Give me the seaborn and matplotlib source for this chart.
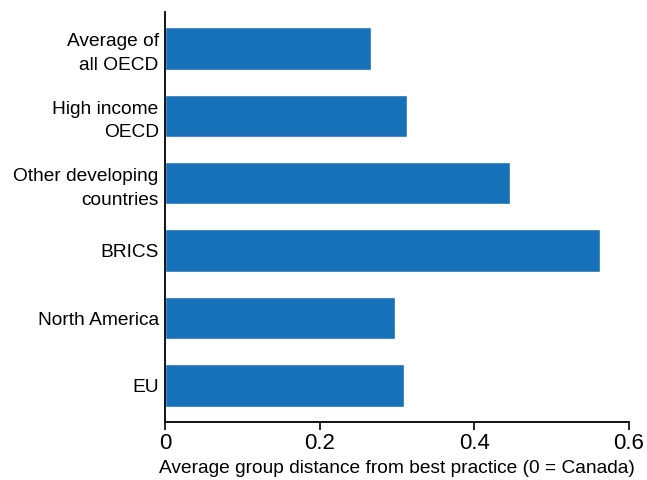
import matplotlib
matplotlib.use("Agg")
import matplotlib.pyplot as plt
import seaborn as sns
import pandas as pd

groups = ["Average of\nall OECD", "High income\nOECD", "Other developing\ncountries",
          "BRICS", "North America", "EU"]
distance = [0.266, 0.313, 0.446, 0.563, 0.298, 0.309]

df = pd.DataFrame({"group": groups, "distance": distance})

sns.set_style("white")
plt.rcParams['font.family'] = ['Liberation Sans', 'DejaVu Sans']
plt.rcParams['text.color'] = 'black'
plt.rcParams['axes.labelcolor'] = 'black'
plt.rcParams['xtick.color'] = 'black'
plt.rcParams['ytick.color'] = 'black'

fig = plt.figure(figsize=(6.47, 4.8), dpi=100)
ax = fig.add_axes([0.255, 0.121, 0.717, 0.854])

sns.barplot(data=df, x="distance", y="group", orient="h", color="#1771b8",
            saturation=1, width=0.63, ax=ax)

ax.set_xlim(0, 0.6)
ax.set_ylim(5.54, -0.54)
ax.set_xticks([0, 0.2, 0.4, 0.6])
ax.set_xticklabels(["0", "0.2", "0.4", "0.6"], fontsize=16)
ax.tick_params(axis="x", bottom=True, direction="out", length=6, width=1.2,
               color="black", pad=2)
ax.tick_params(axis="y", left=False, labelsize=13.8, pad=1)
for lbl in ax.get_yticklabels():
    lbl.set_horizontalalignment("right")
    lbl.set_linespacing(1.5)
ax.set_xlabel("Average group distance from best practice (0 = Canada)", fontsize=13.8, labelpad=4)
ax.set_ylabel("")

for s in ["top", "right"]:
    ax.spines[s].set_visible(False)
for s in ["left", "bottom"]:
    ax.spines[s].set_color("black")
    ax.spines[s].set_linewidth(1.3)

fig.savefig("out.png", dpi=100)
